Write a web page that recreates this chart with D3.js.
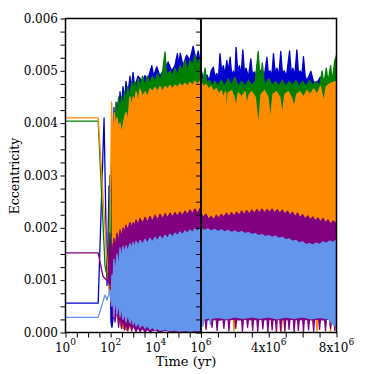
<!doctype html>
<html>
<head>
<meta charset="utf-8">
<script src="https://d3js.org/d3.v7.min.js"></script>
<style>
  body { margin: 0; background: #fff; }
  text { font-family: "DejaVu Serif"; fill: #000; }
</style>
</head>
<body>
<svg width="374" height="374"></svg>
<script>
// series colours, drawn in this order (blue first, light blue last)
var colors = ["#0000cd", "#008000", "#ff8c00", "#800080", "#6495ed"];

var yLabels = [0, 0.001, 0.002, 0.003, 0.004, 0.005, 0.006];
var logLabels = [[1, "0"], [1e2, "2"], [1e4, "4"], [1e6, "6"]];
var linLabels = [[4e6, "4x10", "6"], [8e6, "8x10", "6"]];

// ---- left panel, log time: [years, eccentricity] ----
var blueTopLog = [[1,.00056],[28,.00056],[51,.0041],[69,.0009],[85,.0028],[103,.0002],[114,.0038],[126,.003],[140,.0043],[160,.0036],[191,.0044],[225,.0041],[259,.0046],[300,.0043],[352,.0047],[410,.0044],[477,.0048],[560,.0045],[720,.0049],[800,.0046],[980,.00497],[1150,.0047],[1650,.0049],[2600,.0048],[3330,.00491],[4200,.0048],[6600,.0051],[8000,.0049],[11000,.00508],[15000,.0049],[25000,.00505],[35000,.00517],[50000,.005],[70000,.0051],[90000,.00533],[105000,.0051],[120000,.00534],[160000,.0051],[230000,.0053],[320000,.0052],[450000,.00547],[600000,.0052],[750000,.00538],[900000,.0052],[1e6,.0053]];
var blueBotLog = [[1,.00056],[28,.00056],[51,.0041],[69,.0009],[85,.0028],[103,.0002],[114,.0001],[140,.0004],[200,.0005],[1e6,.0005]];

var greenTopLog = [[1,.00404],[28,.00404],[56,.00128],[76,.001],[93,.003],[103,.0015],[126,.00348],[145,.003],[170,.0044],[191,.004],[225,.0045],[259,.0042],[300,.0045],[352,.0043],[410,.0046],[477,.0044],[560,.0047],[720,.0045],[850,.0048],[980,.0046],[1150,.0048],[1330,.0046],[1650,.00485],[2000,.0047],[2600,.0049],[3330,.0047],[4200,.0049],[5530,.00475],[7000,.0049],[9200,.0048],[12000,.00495],[15300,.0048],[20000,.005],[25500,.00536],[30000,.0049],[42400,.005],[55000,.0049],[70500,.00505],[90000,.0049],[117000,.0051],[150000,.005],[196000,.0052],[250000,.005],[325000,.0052],[420000,.0051],[540000,.0053],[700000,.0051],[900000,.00525],[1e6,.0052]];
var greenBotLog = [[1,.00404],[28,.00404],[56,.00128],[76,.001],[93,.003],[103,.0015],[126,.0008],[1e6,.0008]];

var orangeTopLog = [[1,.0041],[28,.0041],[85,.00075],[110,.0044],[126,.0036],[145,.0042],[170,.0039],[191,.0041],[225,.0039],[259,.004],[300,.0038],[352,.00395],[410,.0041],[477,.0042],[560,.004],[720,.0045],[850,.0043],[980,.0045],[1150,.0044],[1330,.0046],[1650,.0044],[2000,.00465],[2600,.0045],[3330,.0046],[4200,.0045],[5530,.00466],[7000,.0046],[9200,.00468],[12000,.0046],[15300,.0047],[20000,.0046],[25500,.0047],[33000,.00465],[42400,.00472],[55000,.00465],[70500,.00473],[90000,.00468],[117000,.00475],[150000,.0047],[196000,.00476],[250000,.0047],[325000,.00478],[420000,.00472],[540000,.0048],[700000,.00474],[900000,.0048],[1e6,.00478]];
var orangeBotLog = [[1,.0041],[28,.0041],[85,.00075],[110,.0044],[126,.0012],[160,.0004],[300,.0001],[600,.00003],[900,.0003],[1e6,.0003]];

var purpleTopLog = [[1,.00152],[28,.00152],[46,.00107],[76,.00097],[93,.0019],[103,.0012],[114,.0017],[126,.0013],[140,.0018],[155,.0016],[191,.0019],[225,.0017],[259,.00196],[300,.0018],[352,.002],[410,.0019],[477,.00205],[560,.00195],[720,.0021],[850,.002],[980,.0021],[1150,.00203],[1330,.00215],[1650,.00205],[2000,.00218],[2600,.00208],[3330,.0022],[4200,.0021],[5530,.00222],[7000,.00212],[9200,.00224],[12000,.00215],[15300,.00226],[20000,.00217],[25500,.00227],[33000,.00219],[42400,.00228],[55000,.0022],[70500,.00229],[90000,.00222],[117000,.0023],[150000,.00223],[196000,.00232],[250000,.00225],[325000,.00234],[420000,.00227],[540000,.00236],[700000,.00228],[900000,.00237],[1e6,.00232]];
var purpleBotLog = [[1,.00152],[28,.00152],[46,.00107],[76,.00097],[93,.0009],[103,.0005],[114,.0008],[126,.0003],[140,.0006],[155,.0002],[191,.0005],[225,.0001],[259,.0004],[300,.00008],[352,.0003],[410,.00005],[477,.0002],[560,.00004],[720,.00018],[850,.00003],[980,.00014],[1330,.00002],[1650,.0001],[2000,.00002],[2600,.00008],[3330,.00001],[4200,.00006],[5530,.00002],[9200,.00005],[15300,.00001],[25500,.00004],[42400,.00002],[117000,.00003],[325000,.00001],[1e6,.00002]];

var lightTopLog = [[1,.00029],[28,.00029],[56,.00072],[69,.00062],[93,.00081],[103,.0006],[114,.0011],[126,.0009],[140,.0014],[155,.0011],[191,.0015],[225,.0012],[259,.00162],[300,.0014],[352,.00165],[410,.0015],[477,.00166],[560,.00155],[720,.0017],[850,.0016],[980,.00172],[1150,.00162],[1330,.00174],[1650,.00166],[2000,.00176],[2600,.00168],[3330,.00178],[4200,.0017],[5530,.0018],[7000,.00173],[9200,.00182],[12000,.00175],[15300,.00184],[20000,.00177],[25500,.00186],[33000,.0018],[42400,.00188],[55000,.00182],[70500,.0019],[90000,.00185],[117000,.00192],[150000,.00187],[196000,.00194],[250000,.00189],[325000,.00196],[420000,.00191],[540000,.00198],[700000,.00193],[900000,.002],[1e6,.00199]];
var lightBotLog = [[1,.00029],[28,.00029],[56,.00072],[69,.00062],[93,.00081],[103,.0006],[114,.0005],[126,.0008],[140,.0003],[155,.0007],[191,.00035],[225,.0006],[259,.0003],[300,.0005],[352,.00025],[410,.0004],[477,.0002],[560,.00035],[720,.00018],[850,.0003],[980,.00015],[1150,.00025],[1330,.00012],[1650,.0002],[2000,.0001],[2600,.00016],[3330,.00008],[4200,.00013],[5530,.00006],[7000,.0001],[9200,.00005],[12000,.00008],[15300,.00004],[25500,.00006],[42400,.00003],[70500,.00005],[117000,.00003],[196000,.00004],[325000,.00002],[540000,.00004],[1e6,.00003]];

// ---- right panel, linear time: [years, eccentricity] ----
var blueTopLin = [[0,.00504],[0.12e6,.00485],[0.24e6,.00479],[0.36e6,.00492],[0.48e6,.0048],[0.6e6,.005],[0.73e6,.00507],[0.83e6,.00488],[0.93e6,.00495],[1.03e6,.00485],[1.12e6,.00533],[1.22e6,.00499],[1.32e6,.0051],[1.42e6,.00492],[1.52e6,.0052],[1.62e6,.005],[1.72e6,.00526],[1.82e6,.0049],[1.91e6,.005],[2.0e6,.00488],[2.07e6,.00545],[2.17e6,.005],[2.27e6,.0051],[2.37e6,.00492],[2.47e6,.0054],[2.57e6,.00495],[2.66e6,.00505],[2.8e6,.00488],[2.94e6,.00523],[3.04e6,.00492],[3.14e6,.00498],[3.24e6,.0049],[3.33e6,.00513],[3.46e6,.00495],[3.59e6,.00504],[3.74e6,.0049],[3.89e6,.00526],[3.98e6,.00495],[4.08e6,.005],[4.18e6,.0049],[4.28e6,.00533],[4.38e6,.00495],[4.48e6,.00505],[4.6e6,.00492],[4.71e6,.00537],[4.81e6,.00495],[4.91e6,.005],[5.05e6,.0049],[5.23e6,.00538],[5.33e6,.00495],[5.42e6,.00505],[5.54e6,.00492],[5.66e6,.0054],[5.76e6,.00495],[5.86e6,.005],[5.95e6,.0049],[6.05e6,.00527],[6.15e6,.0049],[6.25e6,.00481],[6.37e6,.0049],[6.49e6,.00499],[6.62e6,.00482],[6.75e6,.00475],[6.9e6,.0048],[7.04e6,.00488],[7.2e6,.00478],[7.44e6,.00475],[7.6e6,.0047],[7.83e6,.0047],[8e6,.0047]];
var blueBotLin = [[0,.0003],[8e6,.0003]];

var greenTopLin = [[0,.0049],[0.1e6,.00478],[0.24e6,.00505],[0.35e6,.00475],[0.5e6,.00482],[0.65e6,.0047],[0.8e6,.0048],[1.0e6,.00472],[1.2e6,.00482],[1.4e6,.0047],[1.6e6,.00485],[1.8e6,.00472],[2.0e6,.00488],[2.2e6,.0047],[2.4e6,.0048],[2.6e6,.0047],[2.8e6,.00482],[3.0e6,.00472],[3.2e6,.0048],[3.38e6,.00537],[3.5e6,.00475],[3.62e6,.00515],[3.75e6,.00472],[4.0e6,.00485],[4.2e6,.00472],[4.4e6,.0048],[4.6e6,.0047],[4.8e6,.00482],[5.0e6,.0047],[5.2e6,.0048],[5.4e6,.00472],[5.6e6,.00482],[5.8e6,.0047],[6.0e6,.0048],[6.2e6,.0047],[6.4e6,.00482],[6.6e6,.00472],[6.8e6,.0048],[7.0e6,.0047],[7.15e6,.005],[7.25e6,.00475],[7.4e6,.00505],[7.5e6,.00478],[7.65e6,.0051],[7.75e6,.0048],[7.9e6,.0052],[8e6,.0053]];
var greenBotLin = [[0,.0003],[8e6,.0003]];

var orangeTopLin = [[0,.00478],[0.15e6,.0047],[0.3e6,.00474],[0.45e6,.00465],[0.6e6,.0047],[0.75e6,.0046],[0.9e6,.00466],[1.05e6,.00455],[1.2e6,.00462],[1.32e6,.00448],[1.45e6,.0046],[1.52e6,.00405],[1.6e6,.00458],[1.8e6,.00462],[1.95e6,.0045],[2.07e6,.0043],[2.2e6,.00458],[2.4e6,.0045],[2.6e6,.0046],[2.7e6,.00435],[2.85e6,.00455],[3.0e6,.0046],[3.2e6,.0045],[3.4e6,.00392],[3.55e6,.00455],[3.75e6,.00462],[3.95e6,.0045],[4.1e6,.00405],[4.25e6,.00455],[4.45e6,.0046],[4.65e6,.0045],[4.8e6,.00415],[4.95e6,.00455],[5.15e6,.0046],[5.35e6,.00448],[5.5e6,.0043],[5.65e6,.00455],[5.85e6,.0046],[6.05e6,.0045],[6.25e6,.00462],[6.45e6,.00455],[6.65e6,.00465],[6.85e6,.00455],[7.05e6,.0047],[7.25e6,.0044],[7.4e6,.0047],[7.6e6,.00475],[7.8e6,.00478],[8e6,.0048]];
var orangeBotLin = [[0,.00025],[1.9e6,.00025],[1.95e6,.00003],[2.0e6,.00025],[4.7e6,.00025],[4.75e6,.00002],[4.8e6,.00025],[6.8e6,.00025],[6.85e6,.00003],[6.9e6,.00025],[7.6e6,.00025],[7.65e6,.00002],[7.7e6,.00025],[8e6,.00025]];

var purpleTopLin = [[0,.00227],[0.15e6,.0022],[0.3e6,.00226],[0.45e6,.00216],[0.6e6,.00222],[0.75e6,.00215],[0.9e6,.00224],[1.05e6,.00218],[1.2e6,.00226],[1.35e6,.0022],[1.5e6,.00228],[1.65e6,.00221],[1.8e6,.00229],[1.95e6,.00222],[2.1e6,.0023],[2.25e6,.00224],[2.4e6,.00232],[2.55e6,.00225],[2.7e6,.00233],[2.85e6,.00226],[3.0e6,.00234],[3.15e6,.00227],[3.3e6,.00235],[3.45e6,.00228],[3.6e6,.00236],[3.75e6,.00228],[3.9e6,.00235],[4.05e6,.00229],[4.2e6,.00236],[4.35e6,.00228],[4.5e6,.00235],[4.65e6,.00227],[4.8e6,.00234],[4.95e6,.00226],[5.1e6,.00232],[5.25e6,.00224],[5.4e6,.0023],[5.55e6,.00221],[5.7e6,.00228],[5.85e6,.00219],[6.0e6,.00225],[6.15e6,.00217],[6.3e6,.00223],[6.45e6,.00215],[6.6e6,.00221],[6.75e6,.00213],[6.9e6,.00219],[7.05e6,.00211],[7.2e6,.00218],[7.35e6,.00209],[7.5e6,.00215],[7.65e6,.00207],[7.8e6,.00213],[8e6,.00208]];
var purpleBotLin = [[0,.00022],[0.25e6,.00024],[0.3e6,.00006],[0.35e6,.00024],[0.6e6,.00025],[0.65e6,.0001],[0.7e6,.00025],[0.9e6,.00024],[0.95e6,.00004],[1.0e6,.00023],[1.3e6,.00025],[1.35e6,.00008],[1.4e6,.00024],[1.6e6,.00025],[1.65e6,.00003],[1.7e6,.00024],[2.0e6,.00026],[2.05e6,.00008],[2.1e6,.00024],[2.4e6,.00024],[2.45e6,.00002],[2.5e6,.00025],[2.7e6,.00026],[2.75e6,.0001],[2.8e6,.00024],[3.0e6,.00025],[3.05e6,.00004],[3.1e6,.00024],[3.3e6,.00025],[3.35e6,.00002],[3.4e6,.00024],[3.6e6,.00026],[3.65e6,.00007],[3.7e6,.00024],[3.9e6,.00025],[3.95e6,.00001],[4.0e6,.00024],[4.15e6,.00025],[4.2e6,.00005],[4.25e6,.00024],[4.4e6,.00024],[4.45e6,.00001],[4.5e6,.00025],[4.65e6,.00026],[4.7e6,.00003],[4.75e6,.00024],[4.9e6,.00025],[4.95e6,.00002],[5.0e6,.00024],[5.15e6,.00025],[5.2e6,.00006],[5.25e6,.00024],[5.45e6,.00026],[5.5e6,.00001],[5.55e6,.00024],[5.7e6,.00025],[5.75e6,.00004],[5.8e6,.00024],[6.0e6,.00025],[6.05e6,.00002],[6.1e6,.00024],[6.3e6,.00025],[6.35e6,.00005],[6.4e6,.00024],[6.6e6,.00024],[6.65e6,.00002],[6.7e6,.00025],[6.95e6,.00025],[7.0e6,.00006],[7.05e6,.00024],[7.3e6,.00024],[7.35e6,.00003],[7.4e6,.00025],[7.6e6,.00025],[7.65e6,.00008],[7.7e6,.00024],[7.85e6,.00024],[7.9e6,.00004],[7.95e6,.00024],[8e6,.00023]];

var lightTopLin = [[0,.00199],[0.2e6,.00195],[0.4e6,.00198],[0.6e6,.00194],[0.8e6,.00197],[1.0e6,.00193],[1.2e6,.00196],[1.4e6,.00192],[1.6e6,.00195],[1.8e6,.00191],[2.0e6,.00194],[2.2e6,.0019],[2.4e6,.00193],[2.6e6,.00189],[2.8e6,.00191],[3.0e6,.00187],[3.2e6,.00189],[3.4e6,.00185],[3.6e6,.00187],[3.8e6,.00183],[4.0e6,.00185],[4.2e6,.00182],[4.4e6,.00184],[4.6e6,.0018],[4.8e6,.00182],[5.0e6,.00177],[5.2e6,.00179],[5.4e6,.00174],[5.6e6,.00176],[5.8e6,.00171],[6.0e6,.00173],[6.2e6,.00168],[6.4e6,.0017],[6.6e6,.00167],[6.8e6,.00171],[7.0e6,.00168],[7.2e6,.00173],[7.4e6,.0017],[7.6e6,.00175],[7.8e6,.00172],[8e6,.00177]];
var lightBotLin = [[0,.00025],[0.1e6,.00012],[0.2e6,.00026],[0.5e6,.00028],[0.55e6,.00015],[0.6e6,.00027],[1.0e6,.00029],[1.5e6,.00026],[2.0e6,.0003],[2.5e6,.00027],[3.0e6,.0003],[3.5e6,.00027],[4.0e6,.0003],[4.5e6,.00026],[5.0e6,.0003],[5.5e6,.00027],[6.0e6,.0003],[6.5e6,.00026],[7.0e6,.00029],[7.5e6,.00026],[7.9e6,.00012],[8e6,.00026]];

var logSeries = [[blueTopLog, blueBotLog], [greenTopLog, greenBotLog], [orangeTopLog, orangeBotLog], [purpleTopLog, purpleBotLog], [lightTopLog, lightBotLog]];
var linSeries = [[blueTopLin, blueBotLin], [greenTopLin, greenBotLin], [orangeTopLin, orangeBotLin], [purpleTopLin, purpleBotLin], [lightTopLin, lightBotLin]];

var svg = d3.select("svg"),
    margin = {top: 18.5, bottom: 332.5, left: 65.5, mid: 201, right: 336.5};

var y = d3.scaleLinear().domain([0, 0.006]).range([margin.bottom, margin.top]);
var xLog = d3.scaleLog().domain([1, 1e6]).range([margin.left, margin.mid]);
var xLin = d3.scaleLinear().domain([0, 8e6]).range([margin.mid, margin.right]);

var defs = svg.append("defs");
defs.append("clipPath").attr("id", "clipL").append("rect")
    .attr("x", margin.left).attr("y", margin.top)
    .attr("width", margin.mid - margin.left).attr("height", margin.bottom - margin.top);
defs.append("clipPath").attr("id", "clipR").append("rect")
    .attr("x", margin.mid).attr("y", margin.top)
    .attr("width", margin.right - margin.mid).attr("height", margin.bottom - margin.top);

function drawBands(clip, x, list) {
  var g = svg.append("g").attr("clip-path", "url(#" + clip + ")");
  var line = d3.line().x(function(d) { return x(d[0]); }).y(function(d) { return y(d[1]); });
  list.forEach(function(s, i) {
    var pts = s[0].concat(s[1].slice().reverse());
    g.append("path")
      .attr("d", line(pts) + "Z")
      .attr("fill", colors[i])
      .attr("stroke", colors[i])
      .attr("stroke-width", 1.3)
      .attr("stroke-linejoin", "round");
  });
}
drawBands("clipL", xLog, logSeries);
drawBands("clipR", xLin, linSeries);

// axes
var yTicks = d3.range(0, 25).map(function(i) { return i * 0.00025; });

svg.append("g")
    .attr("transform", "translate(" + margin.left + ",0)")
    .call(d3.axisLeft(y).tickValues(yTicks).tickSize(5).tickFormat(""))
    .call(function(g) { g.select(".domain").remove(); });
svg.append("g")
    .attr("transform", "translate(" + margin.mid + ",0)")
    .call(d3.axisLeft(y).tickValues(yTicks).tickSize(5).tickFormat(""))
    .call(function(g) { g.select(".domain").remove(); });

var logTicks = d3.range(0, 13).map(function(i) { return Math.pow(10, i / 2); });
svg.append("g")
    .attr("transform", "translate(0," + margin.bottom + ")")
    .call(d3.axisBottom(xLog).tickValues(logTicks).tickSize(5).tickFormat(""))
    .call(function(g) { g.select(".domain").remove(); });
svg.append("g")
    .attr("transform", "translate(0," + margin.bottom + ")")
    .call(d3.axisBottom(xLin).tickValues(d3.range(0, 9).map(function(i) { return i * 1e6; })).tickSize(5).tickFormat(""))
    .call(function(g) { g.select(".domain").remove(); });

svg.selectAll(".tick line").attr("stroke", "#000").attr("stroke-width", 1);

// frames
[[margin.left, margin.mid], [margin.mid, margin.right]].forEach(function(p) {
  svg.append("rect")
    .attr("x", p[0]).attr("y", margin.top)
    .attr("width", p[1] - p[0]).attr("height", margin.bottom - margin.top)
    .attr("fill", "none").attr("stroke", "#000").attr("stroke-width", 1.5);
});

// tick labels
svg.append("g").selectAll("text")
  .data(yLabels)
  .enter().append("text")
    .attr("x", 58)
    .attr("y", function(d) { return y(d); })
    .attr("dy", "0.36em")
    .attr("text-anchor", "end")
    .style("font-size", "12px")
    .text(d3.format(".3f"));

function powLabel(xp, base, exp) {
  var t = svg.append("text")
    .attr("x", xp).attr("y", 351.5)
    .attr("text-anchor", "middle")
    .style("font-size", "12px");
  t.append("tspan").text(base);
  t.append("tspan").attr("dy", -7).style("font-size", "9px").text(exp);
}
logLabels.forEach(function(d) { powLabel(xLog(d[0]), "10", d[1]); });
linLabels.forEach(function(d) { powLabel(xLin(d[0]), d[1], d[2]); });

// axis titles
svg.append("text")
    .attr("x", 186).attr("y", 366)
    .attr("text-anchor", "middle")
    .style("font-size", "13px")
    .text("Time (yr)");
svg.append("text")
    .attr("transform", "translate(19,176) rotate(-90)")
    .attr("text-anchor", "middle")
    .style("font-size", "12.5px")
    .text("Eccentricity");
</script>
</body>
</html>
